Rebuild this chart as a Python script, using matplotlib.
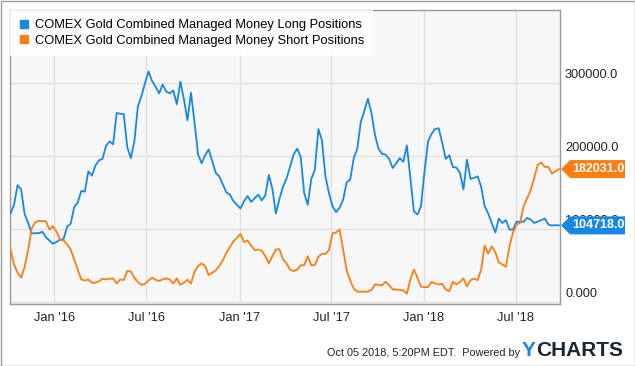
import matplotlib
matplotlib.use('Agg')
import matplotlib.pyplot as plt
import numpy as np
import pandas as pd
from matplotlib.patches import Polygon, Rectangle
from matplotlib.lines import Line2D
from matplotlib.transforms import IdentityTransform, ScaledTranslation

plt.rcParams['font.family'] = ['Liberation Sans', 'DejaVu Sans']

# ---------------- data (thousands of contracts, weekly) ----------------
start_date = '2015-10-06'
n_weeks = 156

long_k = [
    121, 133, 160, 154, 120, 108, 93.6, 94, 94, 96, 88.5, 84, 79.5, 82, 85, 86,
    103, 107, 130, 136, 152, 151, 179, 173, 187, 194, 196, 214, 220, 216, 259, 258,
    257.5, 212, 197, 220, 268, 282, 300, 316, 303, 295, 286, 298, 288.5, 286, 290, 271,
    302, 278, 249, 287, 246, 202, 190, 201, 209, 193, 177, 172, 161, 150, 147, 138,
    133, 128, 138, 145, 137, 142, 147, 139, 146, 174, 155, 121, 141, 158, 169, 185,
    202, 210, 199, 149, 133, 168.5, 181, 237, 222, 172, 149, 131, 123, 129, 140, 164,
    167.5, 197, 210, 247, 262, 278.5, 259, 229, 210, 203, 202, 196, 183.5, 190, 197, 192,
    214.5, 170, 124, 119.6, 131, 179, 220, 230.5, 237, 238, 218, 196, 201, 185, 184,
    177, 154, 195, 168.5, 170, 172, 158, 131, 121, 108, 95, 114, 108, 112, 99, 99,
    109.6, 110, 109.6, 115, 112.7, 108, 110, 112, 114, 106, 104.5, 105, 104.718,
]
short_k = [
    71.6, 51, 39.7, 33, 48, 71.6, 101, 109, 111, 110.5, 110.5, 99, 103.6, 96, 85, 84,
    78.5, 71.6, 58, 44, 30.5, 29, 30.5, 26, 26, 28, 31.5, 30.5, 31.5, 32, 25, 30.5,
    29.6, 42, 41.5, 33, 27, 23, 24.5, 29, 33, 30, 28.5, 30.5, 32, 30.5, 25, 32,
    23, 26, 30, 25, 41, 48.8, 52.5, 49, 36.5, 39.7, 43, 49, 56.6, 67, 75, 83,
    87.6, 93, 81.6, 84, 77, 70.7, 71.6, 70, 62.5, 52.5, 62.5, 71.6, 72, 58, 52.5, 44,
    42, 44, 50, 50, 62.5, 50, 50, 61.6, 65.7, 65.7, 70.7, 93.6, 95, 99, 71.6, 43,
    29, 18, 13.7, 13.7, 13.7, 13.7, 16, 23.7, 23, 22.5, 27.4, 22.5, 16.8, 16.8, 16, 15.5,
    11, 30.5, 44, 33, 20.5, 20, 20, 27, 25, 23.7, 24.5, 16.8, 14.5, 27.4, 23.7,
    27, 32, 21, 29.6, 31.5, 29.6, 44, 77, 66, 76, 68, 54, 51, 48, 76, 95,
    106, 108, 131, 142, 153, 170, 188, 191, 185, 185, 176, 179, 182.031,
]
series_labels = ['COMEX Gold Combined Managed Money Long Positions',
                 'COMEX Gold Combined Managed Money Short Positions']
last_labels = ['104718.0', '182031.0']

ytick_vals = [0, 100000, 200000, 300000]
ytick_labels = ['0.000', '100000.0', '200000.0', '300000.0']
xtick_dates = ['2016-01-01', '2016-07-01', '2017-01-01', '2017-07-01', '2018-01-01', '2018-07-01']
xtick_labels = ["Jan '16", "Jul '16", "Jan '17", "Jul '17", "Jan '18", "Jul '18"]

footer_text = 'Oct 05 2018, 5:20PM EDT.  Powered by'

# ---------------- plot ----------------
BLUE = '#1787e6'
ORANGE = '#fb7e12'

dates = pd.date_range(start_date, periods=n_weeks, freq='7D')
long_v = np.array(long_k) * 1000
short_v = np.array(short_k) * 1000

W, H = 635, 366
fig = plt.figure(figsize=(W / 100, H / 100), dpi=100)
fig.patch.set_facecolor('white')
ax = fig.add_axes([10 / W, 1 - 304 / H, 550 / W, 294 / H])
ax.set_facecolor('#f7f7f7')

ax.plot(dates, long_v, color=BLUE, lw=1.3, zorder=3)
ax.plot(dates, short_v, color=ORANGE, lw=1.3, zorder=3)

ax.set_xlim(pd.Timestamp('2015-10-05'), pd.Timestamp('2018-09-27'))
ax.set_ylim(-3200, 400400)

ax.set_xticks(pd.to_datetime(xtick_dates))
ax.set_xticklabels(xtick_labels, fontsize=9.3, color='#222222')
ax.tick_params(axis='x', length=0, pad=6)
ax.set_yticks(ytick_vals)
ax.set_yticklabels([])
ax.tick_params(axis='y', length=0, right=False, left=False)
ax.grid(True, color='#e2e2e2', lw=1)
ax.set_axisbelow(True)
for s in ax.spines.values():
    s.set_color('#999999')
    s.set_linewidth(1)

ytrans = ax.get_yaxis_transform() + ScaledTranslation(5 / 100, 5 / 100, fig.dpi_scale_trans)
for v, lab in zip(ytick_vals, ytick_labels):
    ax.text(1.0, v, lab, transform=ytrans, ha='left', va='baseline',
            fontsize=9.2, color='#222222', clip_on=False)

handles = [Line2D([], [], marker='s', color=BLUE, ls='none', markersize=6),
           Line2D([], [], marker='s', color=ORANGE, ls='none', markersize=6)]
leg = ax.legend(handles, series_labels, loc='upper left', bbox_to_anchor=(0, 1),
                borderaxespad=0, frameon=True, fancybox=False, facecolor='white',
                edgecolor='none', framealpha=0.85, fontsize=9.3, handlelength=0.8,
                handletextpad=0.45, labelspacing=0.3, borderpad=0.7)
leg.set_zorder(5)

# end-value tags
x1 = ax.bbox.x1
for v, lab, col in [(long_v[-1], last_labels[0], BLUE), (short_v[-1], last_labels[1], ORANGE)]:
    yd = ax.transData.transform((0, v))[1]
    verts = [(x1 + 1, yd), (x1 + 10, yd + 9), (x1 + 65, yd + 9), (x1 + 65, yd - 9), (x1 + 10, yd - 9)]
    poly = Polygon(verts, closed=True, facecolor=col, edgecolor='none', transform=IdentityTransform(), zorder=10)
    fig.add_artist(poly)
    fig.text((x1 + 38) / W, yd / H, lab, ha='center', va='center', color='white',
             fontsize=9, fontweight='bold', zorder=11)

# figure border
fig.add_artist(Rectangle((0.5 / W, 0.5 / H), 1 - 1 / W, 1 - 1 / H, transform=fig.transFigure,
                         fill=False, edgecolor='#9a9a9a', lw=1))

# footer
fig.text(520 / W, (H - 356) / H, footer_text, ha='right', va='baseline', fontsize=7.8, color='#222222')
r = fig.canvas.get_renderer()
ty = fig.text(522 / W, (H - 356) / H, 'Y', ha='left', va='baseline', fontsize=15,
              fontweight='bold', color=BLUE)
bb = ty.get_window_extent(r)
fig.text(bb.x1 / W, (H - 356) / H, 'CHARTS', ha='left', va='baseline', fontsize=15,
         fontweight='bold', color='#1b2631')

fig.savefig('out.png', dpi=100)
